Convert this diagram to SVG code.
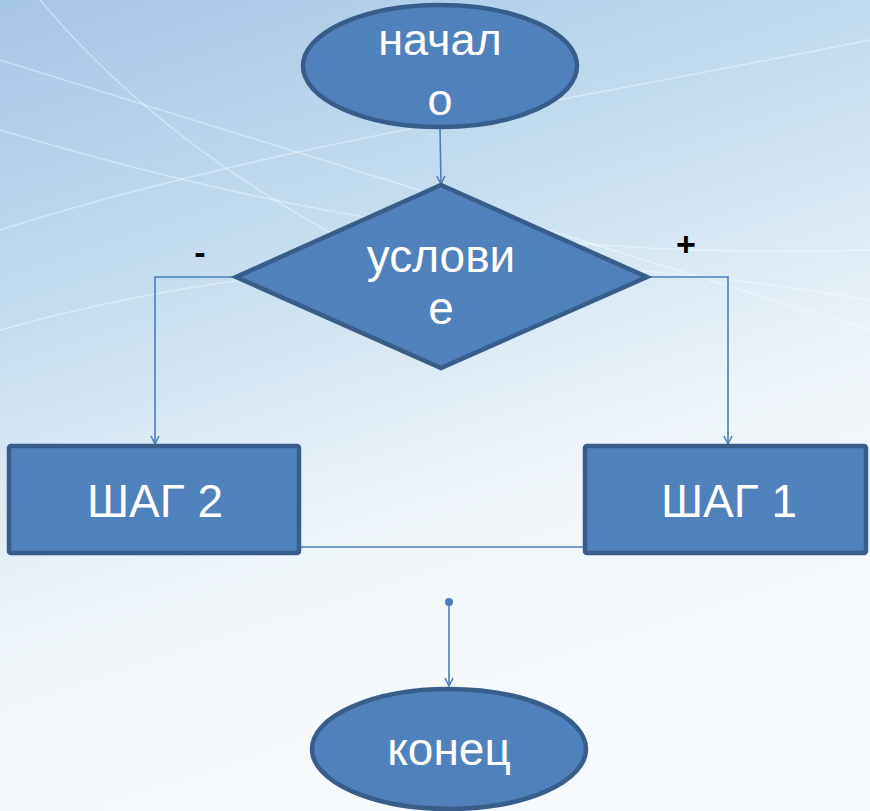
<svg xmlns="http://www.w3.org/2000/svg" width="870" height="811" viewBox="0 0 870 811">
  <defs>
    <linearGradient id="bg" x1="0" y1="0" x2="0.35" y2="1">
      <stop offset="0" stop-color="#a6c6e6"/>
      <stop offset="0.35" stop-color="#c4dcee"/>
      <stop offset="0.7" stop-color="#eef5fa"/>
      <stop offset="1" stop-color="#f7fafc"/>
    </linearGradient>
    <marker id="arr" viewBox="0 0 10 10" refX="9" refY="5" markerWidth="10" markerHeight="10" markerUnits="userSpaceOnUse" orient="auto">
      <path d="M1,1 L9,5 L1,9" fill="none" stroke="#4a7ebb" stroke-width="1.5"/>
    </marker>
    <marker id="dot" viewBox="0 0 10 10" refX="5" refY="5" markerWidth="8" markerHeight="8" markerUnits="userSpaceOnUse">
      <circle cx="5" cy="5" r="5" fill="#4a7ebb"/>
    </marker>
  </defs>
  <style>
    .shape { fill: #4f81bd; stroke: #385d8a; stroke-width: 4.5; }
    .lbl { font-family: "Liberation Sans", Arial, sans-serif; fill: #ffffff; text-anchor: middle; }
    .conn { fill: none; stroke: #4a7ebb; stroke-width: 1.6; }
    .sign { font-family: "Liberation Sans", Arial, sans-serif; font-weight: bold; fill: #000000; text-anchor: middle; font-size: 34px; }
    .deco { fill: none; stroke: #ffffff; stroke-opacity: 0.4; stroke-width: 1.5; }
  </style>
  <rect x="0" y="0" width="870" height="811" fill="url(#bg)"/>
  <g id="background-lines">
    <path class="deco" d="M0,60 C200,120 420,190 870,330"/>
    <path class="deco" d="M0,230 C250,150 520,110 870,40"/>
    <path class="deco" d="M0,130 C300,220 560,260 870,250"/>
    <path class="deco" d="M40,0 C140,120 280,220 470,300"/>
    <path class="deco" d="M0,330 C250,260 520,240 870,300"/>
  </g>
  <g id="connectors">
    <path class="conn" d="M440,128 L441,184" marker-end="url(#arr)"/>
    <path class="conn" d="M236,277 L155,277 L155,444" marker-end="url(#arr)"/>
    <path class="conn" d="M647,277 L728,277 L728,444" marker-end="url(#arr)"/>
    <path class="conn" d="M155,547 L728,547" stroke-width="2"/>
    <path class="conn" d="M449,602 L449,686" marker-start="url(#dot)" marker-end="url(#arr)"/>
  </g>
  <g id="labels">
    <text class="sign" x="200" y="264">-</text>
    <text class="sign" x="686" y="256">+</text>
  </g>
  <g id="start">
    <ellipse class="shape" cx="440" cy="66" rx="137" ry="61"/>
    <text class="lbl" font-size="45" x="440" y="55">начал</text>
    <text class="lbl" font-size="45" x="440" y="115">о</text>
  </g>
  <g id="condition">
    <polygon class="shape" points="441,185 647,277 441,368 236,277"/>
    <text class="lbl" font-size="46" x="441" y="272">услови</text>
    <text class="lbl" font-size="46" x="441" y="324">е</text>
  </g>
  <g id="step2">
    <rect class="shape" x="9" y="446" width="290" height="107" rx="2"/>
    <text class="lbl" font-size="46" x="155" y="517">ШАГ 2</text>
  </g>
  <g id="step1">
    <rect class="shape" x="585" y="446" width="281" height="107" rx="2"/>
    <text class="lbl" font-size="46" x="729" y="517">ШАГ 1</text>
  </g>
  <g id="end">
    <ellipse class="shape" cx="449" cy="749" rx="137" ry="60"/>
    <text class="lbl" font-size="46" x="449" y="765">конец</text>
  </g>
</svg>
